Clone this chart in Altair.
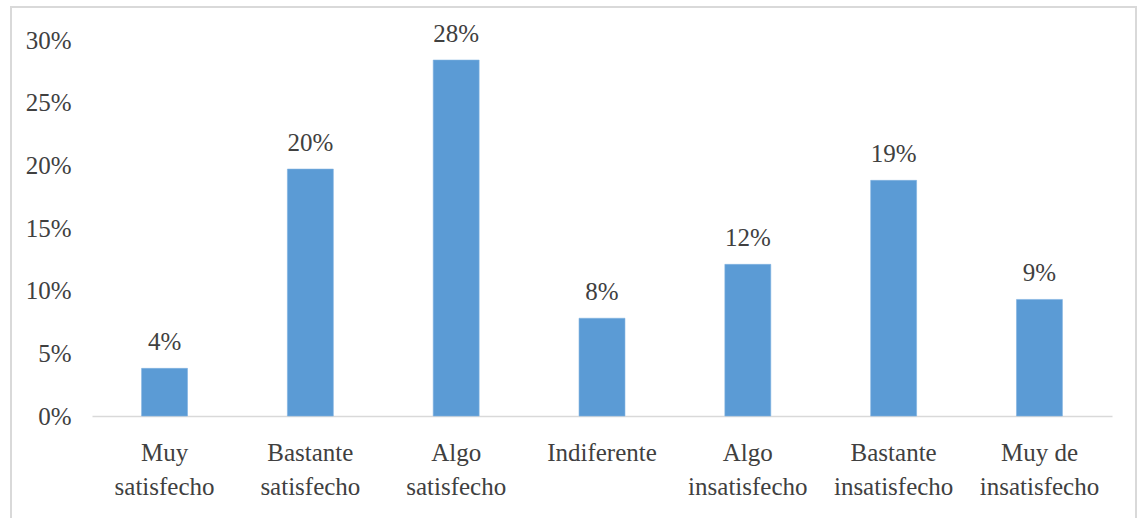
import altair as alt
import pandas as pd

# Survey answers: share of respondents per satisfaction level
categories = [
    "Muy satisfecho",
    "Bastante satisfecho",
    "Algo satisfecho",
    "Indiferente",
    "Algo insatisfecho",
    "Bastante insatisfecho",
    "Muy de insatisfecho",
]
shares = [0.038, 0.197, 0.284, 0.078, 0.121, 0.188, 0.093]

y_ticks = [0, 0.05, 0.10, 0.15, 0.20, 0.25, 0.30]

df = pd.DataFrame({"categoria": categories, "valor": shares})

FONT = "Liberation Serif"
TEXT = "#404040"
BAR = "#5B9BD5"

x_enc = alt.X(
    "categoria:N",
    sort=categories,
    scale=alt.Scale(paddingInner=0.685, paddingOuter=0.34),
    axis=alt.Axis(
        title=None,
        labelAngle=0,
        labelFont=FONT,
        labelFontSize=25,
        labelColor=TEXT,
        labelPadding=24,
        labelLineHeight=34,
        labelExpr="datum.label == 'Muy de insatisfecho' ? ['Muy de', 'insatisfecho'] : split(datum.label, ' ')",
        ticks=False,
        domainColor="#d9d9d9",
        domainWidth=1.5,
        grid=False,
    ),
)

y_enc = alt.Y(
    "valor:Q",
    scale=alt.Scale(domain=[0, 0.30], nice=False),
    axis=alt.Axis(
        title=None,
        values=y_ticks,
        format=".0%",
        labelFont=FONT,
        labelFontSize=25,
        labelColor=TEXT,
        labelPadding=21,
        ticks=False,
        domain=False,
        grid=False,
    ),
)

bars = alt.Chart(df).mark_bar(color=BAR, stroke="#7fb2e0", strokeWidth=0.6).encode(
    x=x_enc, y=y_enc
)

labels = alt.Chart(df).mark_text(
    font=FONT, fontSize=25, color=TEXT, baseline="alphabetic", dy=-18
).encode(
    x=alt.X("categoria:N", sort=categories),
    y="valor:Q",
    text=alt.Text("valor:Q", format=".0%"),
)

# Outer frame around the whole figure
frame = alt.Chart(df).mark_rect(
    fill=None, stroke="#d9d9d9", strokeWidth=2
).encode(
    x=alt.value(-81),
    x2=alt.value(1044),
    y=alt.value(-33),
    y2=alt.value(500),
)

chart = (
    alt.layer(frame, bars, labels)
    .properties(
        width=1020,
        height=376,
        autosize=alt.AutoSizeParams(type="none"),
        padding={"left": 92, "top": 40, "right": 26, "bottom": 102},
        background="white",
    )
    .configure_view(stroke=None)
)

chart.save("out.html", embed_options={"renderer": "svg", "actions": False})
